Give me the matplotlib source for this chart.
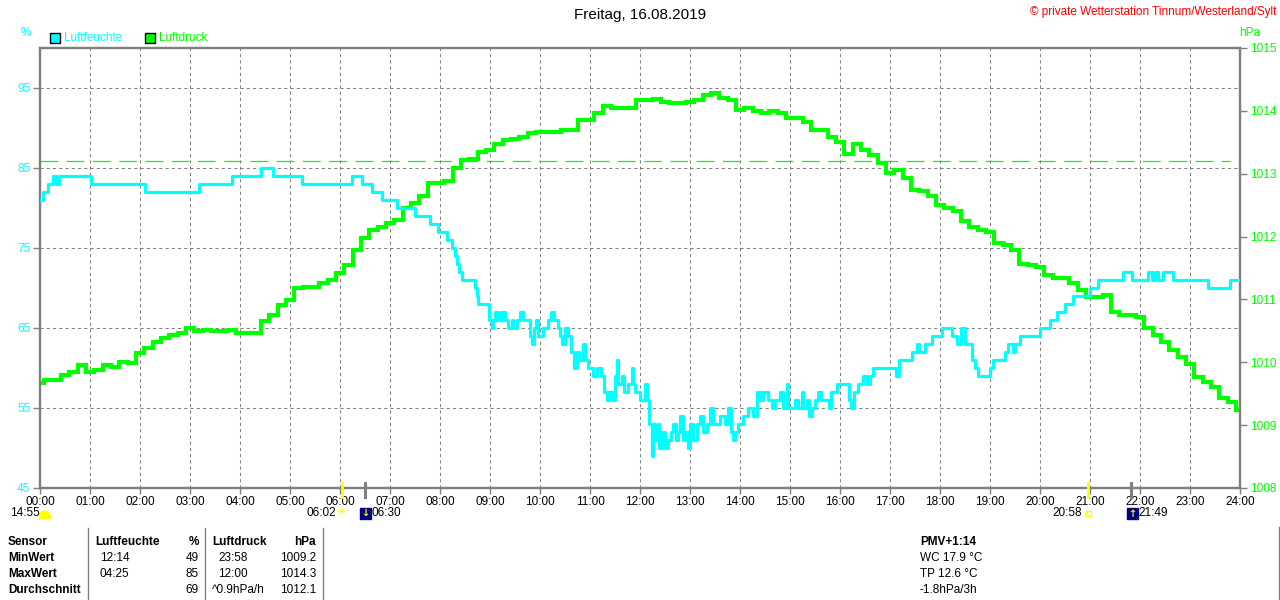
import matplotlib
matplotlib.use("Agg")
import matplotlib.pyplot as plt
import matplotlib.patches as mpatches
import numpy as np

W, H = 1280, 600
CYAN = "#00FFFF"
GREEN = "#00FF00"
GRAY = "#808080"
plt.rcParams['font.family'] = ['Liberation Sans', 'DejaVu Sans']

# ---------------- data ----------------
hour_labels = ["%02d:00" % h for h in range(25)]

# humidity (%), step changes: minute of day, value
hum_min = [0, 3, 10, 15, 19, 23, 61, 126, 191, 230, 265, 280, 314, 374, 386, 398, 410,
           428, 450, 468, 478, 488, 494, 498, 500, 503, 506, 522, 524, 526,
           539, 542, 543, 546, 548, 552, 554, 556, 558, 562, 566, 568, 572, 576, 579,
           588, 590, 593, 595, 598, 604, 610, 613, 617, 621, 624, 626, 630, 633, 637,
           641, 644, 647, 651, 654, 657, 664, 668, 673, 677, 680, 683, 686, 690, 692,
           694, 698, 701, 705, 710, 712, 714, 720, 726, 728, 731, 734, 736, 738, 741,
           743, 746, 750, 753, 757, 760, 763, 766, 768, 771, 774, 778, 780, 784, 788,
           792, 796, 800, 804, 807, 816, 822, 826, 829, 831, 834, 838, 844, 850, 856,
           860, 864, 868, 874, 878, 882, 888, 892, 896, 898, 906, 910, 914, 916, 920,
           923, 926, 930, 934, 937, 947, 949, 956, 971, 973, 977, 981, 987, 992, 996,
           1000, 1027, 1031, 1046, 1052, 1055, 1062, 1070, 1082, 1094, 1100, 1105,
           1110, 1118, 1122, 1126, 1140, 1144, 1158, 1162, 1168, 1170, 1176, 1200,
           1212, 1220, 1230, 1240, 1260, 1270, 1300, 1310, 1330, 1334, 1338, 1342,
           1348, 1360, 1402, 1428, 1440]
hum_val = [81, 82, 83, 84, 83, 84, 83, 82, 83, 84, 85, 84, 83, 84, 83, 82, 81,
           80, 79, 78, 77, 76, 75, 74, 73, 72, 71, 70, 69, 68,
           66, 65, 66, 67, 66, 67, 66, 67, 66, 65, 66, 65, 66, 67, 66,
           64, 63, 65, 66, 64, 65, 66, 67, 66, 65, 64, 63, 65, 64, 62,
           60, 62, 61, 63, 61, 60, 59, 60, 59, 57, 56, 57, 56, 59, 61,
           58, 59, 57, 58, 60, 58, 57, 56, 58, 56, 53, 49, 53, 51, 53,
           50, 52, 50, 51, 52, 53, 51, 52, 54, 51, 52, 50, 53, 51, 53,
           54, 52, 53, 55, 53, 54, 53, 55, 52, 51, 52, 53, 54, 55, 54,
           57, 56, 57, 56, 55, 56, 57, 55, 58, 55, 56, 55, 57, 55, 56,
           54, 55, 56, 57, 56, 55, 57, 58, 56, 55, 57, 58, 59, 58, 59,
           60, 59, 61, 62, 63, 62, 63, 64, 65, 64, 63, 65,
           63, 61, 60, 59, 60, 61, 62, 63, 62, 63, 64, 65,
           66, 67, 68, 69, 70, 71, 72, 71, 72, 71, 72, 71,
           72, 71, 70, 71, 71]

# air pressure (hPa), every 10 minutes from 00:00 to 24:00
press_val = [1009.67, 1009.72, 1009.72, 1009.80, 1009.85, 1009.96,
             1009.85, 1009.87, 1009.96, 1009.93, 1010.01, 1009.99,
             1010.14, 1010.22, 1010.33, 1010.38, 1010.43, 1010.46,
             1010.54, 1010.49, 1010.51, 1010.49, 1010.49, 1010.51,
             1010.46, 1010.46, 1010.46, 1010.65, 1010.75, 1010.91,
             1010.99, 1011.18, 1011.20, 1011.20, 1011.26, 1011.31,
             1011.42, 1011.55, 1011.79, 1011.97, 1012.10, 1012.16,
             1012.21, 1012.26, 1012.45, 1012.53, 1012.64, 1012.85,
             1012.85, 1012.88, 1013.09, 1013.22, 1013.24, 1013.35,
             1013.38, 1013.48, 1013.54, 1013.56, 1013.59, 1013.64,
             1013.67, 1013.66, 1013.67, 1013.70, 1013.70, 1013.86,
             1013.86, 1013.96, 1014.07, 1014.05, 1014.05, 1014.05,
             1014.17, 1014.17, 1014.19, 1014.14, 1014.12, 1014.12,
             1014.14, 1014.17, 1014.25, 1014.28, 1014.21, 1014.17,
             1014.01, 1014.05, 1013.99, 1013.96, 1013.99, 1013.96,
             1013.88, 1013.88, 1013.83, 1013.70, 1013.70, 1013.59,
             1013.51, 1013.32, 1013.48, 1013.38, 1013.30, 1013.17,
             1013.01, 1013.06, 1012.93, 1012.74, 1012.72, 1012.64,
             1012.50, 1012.45, 1012.40, 1012.24, 1012.16, 1012.10,
             1012.08, 1011.89, 1011.87, 1011.79, 1011.57, 1011.55,
             1011.52, 1011.39, 1011.34, 1011.34, 1011.26, 1011.15,
             1011.04, 1011.04, 1011.07, 1010.80, 1010.75, 1010.75,
             1010.72, 1010.54, 1010.43, 1010.33, 1010.20, 1010.09,
             1009.98, 1009.77, 1009.69, 1009.61, 1009.43, 1009.37,
             1009.24]
press_min = list(range(0, 1441, 10))
press_ref = 1013.2   # dashed reference line

# ---------------- figure ----------------
fig = plt.figure(figsize=(W / 100, H / 100), dpi=100)
fig.patch.set_facecolor("white")

def fx(x):
    return x / W

def fy(y):
    return 1 - y / H

ax2 = fig.add_axes([fx(40), fy(488), 1200 / W, 440 / H])
ax = ax2.twinx()
ax.set_zorder(3)
ax.patch.set_visible(False)
ax2.set_zorder(2)

# pressure axis (right) -------------------------------------------
ax2.set_xlim(0, 24)
ax2.set_ylim(1008, 1015)
ax2.yaxis.tick_right()
ax2.set_yticks(range(1008, 1016))
ax2.tick_params(axis='y', which='both', left=False, right=True, labelleft=False,
                labelright=True, labelcolor=GREEN, color=GRAY, length=5, width=1,
                labelsize=8.5, pad=2)
ax2.set_xticks(range(25))
ax2.set_xticklabels(hour_labels)
ax2.tick_params(axis='x', bottom=True, labelbottom=True, top=False, color=GRAY,
                length=4, width=1, labelsize=8.5, pad=2, labelcolor='black')

# grid (drawn on the bottom axes)
for h in range(1, 24):
    ax2.axvline(h, color=GRAY, lw=0.75, ls=(0, (3, 3)), zorder=0)
for hv in [55, 65, 75, 85, 95]:
    pv = 1008 + (hv - 45) * 7.0 / 55.0
    ax2.axhline(pv, color=GRAY, lw=0.75, ls=(0, (3, 3)), zorder=0)

ax2.plot([0, 23.8], [press_ref, press_ref], color=GREEN, lw=0.9, ls=(0, (14, 7)), zorder=1)
ax2.plot(np.array(press_min) / 60.0, press_val, color=GREEN, lw=3.0, zorder=2,
         drawstyle='steps-mid', solid_joinstyle='miter')

# humidity axis (left) --------------------------------------------
ax.set_xlim(0, 24)
ax.set_ylim(45, 100)
ax.yaxis.tick_left()
ax.set_yticks([45, 55, 65, 75, 85, 95])
ax.tick_params(axis='y', left=True, right=False, labelleft=True, labelright=False,
               labelcolor=CYAN, color=GRAY, length=5, width=1, labelsize=8.5, pad=2)
ax.step(np.array(hum_min) / 60.0, hum_val, where='post', color=CYAN, lw=2.3, zorder=3)

for a in (ax, ax2):
    for s in a.spines.values():
        s.set_color(GRAY)
        s.set_linewidth(1.6)

# sunrise / moon markers below the axis
xt = ax2.get_xaxis_transform()
for t, c, lw in [(6 + 2 / 60, '#FFFF00', 2.0), (6.5, GRAY, 2.2),
                 (20 + 58 / 60, '#FFFF00', 2.0), (21 + 49 / 60, GRAY, 2.2)]:
    ax.plot([t, t], [(488 - 483) / 440, (488 - 497) / 440], color=c, lw=lw,
            transform=xt, clip_on=False, zorder=5)

fs = 8.5
fig.text(fx(10), fy(513), "14:55", fontsize=fs, va='center', ha='left')
fig.add_artist(mpatches.Ellipse((fx(44.5), fy(515)), 9 / W, 8 / H, color='#FFFF00',
                                transform=fig.transFigure))
fig.add_artist(mpatches.Rectangle((fx(39), fy(518)), 11 / W, 3 / H, color='#FFFF00',
                                  transform=fig.transFigure))
fig.text(fx(336), fy(513), "06:02", fontsize=fs, va='center', ha='right')
fig.text(fx(342), fy(513), "\u2600", fontsize=9, va='center', ha='center',
         color='#FFFF00', family=['DejaVu Sans'])
fig.add_artist(mpatches.Rectangle((fx(360), fy(519)), 11 / W, 11 / H, color='#000080',
                                  transform=fig.transFigure))
fig.text(fx(365.5), fy(513), "\u2193", fontsize=7, va='center', ha='center',
         color='#FFFF00', family=['DejaVu Sans'], weight='bold')
fig.text(fx(372), fy(513), "06:30", fontsize=fs, va='center', ha='left')

fig.text(fx(1082), fy(513), "20:58", fontsize=fs, va='center', ha='right')
fig.add_artist(mpatches.Rectangle((fx(1086), fy(516)), 5 / W, 5 / H, facecolor='none',
                                  edgecolor='#FFFF00', lw=1, transform=fig.transFigure))
fig.add_artist(mpatches.Rectangle((fx(1127), fy(519)), 11 / W, 11 / H, color='#000080',
                                  transform=fig.transFigure))
fig.text(fx(1132.5), fy(514), "\u2191", fontsize=7, va='center', ha='center',
         color='#FFFF00', family=['DejaVu Sans'], weight='bold')
fig.text(fx(1138), fy(513), "21:49", fontsize=fs, va='center', ha='left')

# titles / legend ---------------------------------------------------
fig.text(fx(640), fy(15), "Freitag, 16.08.2019", fontsize=11, ha='center', va='center')
fig.text(fx(1276), fy(12), "\u00a9 private Wetterstation Tinnum/Westerland/Sylt",
         fontsize=8.5, ha='right', va='center', color='#FF0000')
fig.text(fx(26), fy(33), "%", fontsize=8.5, ha='center', va='center', color=CYAN)
fig.text(fx(1250), fy(33), "hPa", fontsize=8.5, ha='center', va='center', color=GREEN)

fig.add_artist(mpatches.Rectangle((fx(50), fy(43)), 10 / W, 10 / H, facecolor=CYAN,
                                  edgecolor='black', lw=1, transform=fig.transFigure))
fig.text(fx(64), fy(38), "Luftfeuchte", fontsize=8.5, ha='left', va='center', color=CYAN)
fig.add_artist(mpatches.Rectangle((fx(145), fy(43)), 10 / W, 10 / H, facecolor=GREEN,
                                  edgecolor='black', lw=1, transform=fig.transFigure))
fig.text(fx(159), fy(38), "Luftdruck", fontsize=8.5, ha='left', va='center', color=GREEN)

# statistics table ----------------------------------------------------
rows_y = [542, 558, 574, 590]
tfs = 8.5
fig.text(fx(8), fy(rows_y[0]), "Sensor", fontsize=tfs, weight='bold', va='center')
fig.text(fx(8), fy(rows_y[1]), "MinWert", fontsize=tfs, weight='bold', va='center')
fig.text(fx(8), fy(rows_y[2]), "MaxWert", fontsize=tfs, weight='bold', va='center')
fig.text(fx(8), fy(rows_y[3]), "Durchschnitt", fontsize=tfs, weight='bold', va='center')

fig.text(fx(95), fy(rows_y[0]), "Luftfeuchte", fontsize=tfs, weight='bold', va='center')
fig.text(fx(199), fy(rows_y[0]), "%", fontsize=tfs, weight='bold', va='center', ha='right')
fig.text(fx(100), fy(rows_y[1]), "12:14", fontsize=tfs, va='center')
fig.text(fx(199), fy(rows_y[1]), "49", fontsize=tfs, va='center', ha='right')
fig.text(fx(100), fy(rows_y[2]), "04:25", fontsize=tfs, va='center')
fig.text(fx(199), fy(rows_y[2]), "85", fontsize=tfs, va='center', ha='right')
fig.text(fx(199), fy(rows_y[3]), "69", fontsize=tfs, va='center', ha='right')

fig.text(fx(212), fy(rows_y[0]), "Luftdruck", fontsize=tfs, weight='bold', va='center')
fig.text(fx(316), fy(rows_y[0]), "hPa", fontsize=tfs, weight='bold', va='center', ha='right')
fig.text(fx(218), fy(rows_y[1]), "23:58", fontsize=tfs, va='center')
fig.text(fx(316), fy(rows_y[1]), "1009.2", fontsize=tfs, va='center', ha='right')
fig.text(fx(218), fy(rows_y[2]), "12:00", fontsize=tfs, va='center')
fig.text(fx(316), fy(rows_y[2]), "1014.3", fontsize=tfs, va='center', ha='right')
fig.text(fx(212), fy(rows_y[3]), "^0.9hPa/h", fontsize=tfs, va='center')
fig.text(fx(316), fy(rows_y[3]), "1012.1", fontsize=tfs, va='center', ha='right')

fig.text(fx(920), fy(rows_y[0]), "PMV+1:14", fontsize=tfs, weight='bold', va='center')
fig.text(fx(920), fy(rows_y[1]), "WC 17.9 \u00b0C", fontsize=tfs, va='center')
fig.text(fx(920), fy(rows_y[2]), "TP 12.6 \u00b0C", fontsize=tfs, va='center')
fig.text(fx(920), fy(rows_y[3]), "-1.8hPa/3h", fontsize=tfs, va='center')

for xs, y0 in [(88, 528), (205, 528), (323, 528), (1279, 527)]:
    fig.add_artist(plt.Line2D([fx(xs), fx(xs)], [fy(y0), fy(600)], color=GRAY, lw=1,
                              transform=fig.transFigure))

fig.savefig("out.png", dpi=100)
